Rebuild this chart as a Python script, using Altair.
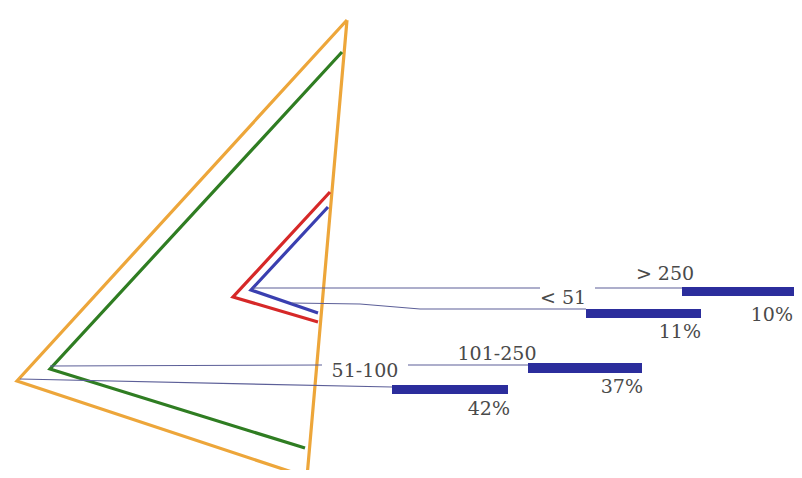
import altair as alt
import pandas as pd

# ---- data (image coordinates) ----
categories = ["> 250", "< 51", "101-250", "51-100"]
shares = [10, 11, 37, 42]

# triangle outlines: one per category
tri_names = ["orange", "green", "red", "blue"]
tri_colors = ["#eda63a", "#2f7d22", "#d62828", "#3a3fb0"]
orange_x = [347, 17, 307, 347]
orange_y = [20, 381, 477, 20]
green_x = [342, 50, 305]
green_y = [52, 369, 448]
red_x = [330, 233, 318]
red_y = [192, 297, 322]
blue_x = [328, 251, 318]
blue_y = [207, 290, 313]

# leader lines (segments)
lead_seg = ["a", "a", "b", "b", "c", "c", "c", "c", "d", "d", "e", "e", "f", "f"]
lead_x = [253, 540, 595, 682, 292, 360, 420, 586, 50, 322, 408, 528, 20, 392]
lead_y = [288, 288, 288, 288, 303, 304, 309, 309, 366, 365, 365, 365, 379, 387]

# bars
bar_x0 = [682, 586, 528, 392]
bar_x1 = [794, 701, 642, 508]
bar_y0 = [287, 309, 363, 385]
bar_y1 = [296, 318, 373, 394]

# labels
cat_x = [665, 563, 497, 365]
cat_y = [280, 304, 360, 377]
pct_x = [793, 701, 643, 510]
pct_y = [321, 338, 393, 415]

# ---- tables ----
rows = []
for name, xs, ys in [("orange", orange_x, orange_y), ("green", green_x, green_y),
                     ("red", red_x, red_y), ("blue", blue_x, blue_y)]:
    for i, (x, y) in enumerate(zip(xs, ys)):
        rows.append({"tri": name, "o": i, "x": x, "y": y})
tri_df = pd.DataFrame(rows)

lead_df = pd.DataFrame({"seg": lead_seg, "x": lead_x, "y": lead_y,
                        "o": list(range(len(lead_x)))})
bar_df = pd.DataFrame({"cat": categories, "x0": bar_x0, "x1": bar_x1,
                       "y0": bar_y0, "y1": bar_y1})
cat_df = pd.DataFrame({"t": categories, "x": cat_x, "y": cat_y})
pct_df = pd.DataFrame({"t": [f"{s}%" for s in shares], "x": pct_x, "y": pct_y})

W, H = 786, 462
xs = alt.Scale(domain=[8, 794], nice=False, zero=False)
ys = alt.Scale(domain=[8, 470], nice=False, zero=False, reverse=True)
X = lambda f="x": alt.X(f"{f}:Q", scale=xs, axis=None)
Y = lambda f="y": alt.Y(f"{f}:Q", scale=ys, axis=None)

tris = alt.Chart(tri_df).mark_line(strokeWidth=3.2, strokeJoin="miter").encode(
    x=X(), y=Y(), detail="tri:N", order="o:Q",
    color=alt.Color("tri:N", scale=alt.Scale(domain=tri_names, range=tri_colors), legend=None),
)

leads = alt.Chart(lead_df).mark_line(strokeWidth=1.2, color="#5c5f98").encode(
    x=X(), y=Y(), detail="seg:N", order="o:Q"
)

bars = alt.Chart(bar_df).mark_rect(color="#2b2d9c").encode(
    x=X("x0"), x2="x1:Q", y=Y("y0"), y2="y1:Q"
)

cat_text = alt.Chart(cat_df).mark_text(
    font="DejaVu Serif", fontSize=19, color="#4a4a4a", align="center", baseline="alphabetic"
).encode(x=X(), y=Y(), text="t:N")

pct_text = alt.Chart(pct_df).mark_text(
    font="DejaVu Serif", fontSize=19, color="#4a4a4a", align="right", baseline="alphabetic"
).encode(x=X(), y=Y(), text="t:N")

chart = alt.layer(tris, leads, bars, cat_text, pct_text).properties(
    width=W, height=H,
    autosize=alt.AutoSizeParams(type="none"),
    padding=0,
    background="white",
).configure_view(stroke=None)

chart.save("out.html", embed_options={"renderer": "svg", "actions": False})
